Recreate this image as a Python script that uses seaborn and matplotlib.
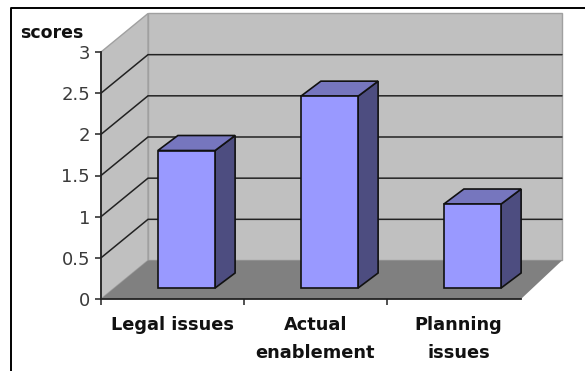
import matplotlib
matplotlib.use("Agg")
import matplotlib.pyplot as plt
import seaborn as sns
from matplotlib.lines import Line2D
from matplotlib.patches import Polygon
from matplotlib.transforms import Affine2D

categories = ["Legal issues", "Actual\nenablement", "Planning\nissues"]
scores = [1.67, 2.33, 1.02]
score_ticks = [0, 0.5, 1, 1.5, 2, 2.5, 3]
score_labels = ["0", "0.5", "1", "1.5", "2", "2.5", "3"]

WALL = "#C0C0C0"
FLOOR = "#808080"
BAR_FRONT = "#9999FF"
BAR_TOP = "#7676BE"
BAR_SIDE = "#4D4D80"
INK = "#111111"

W, H = 585, 371
sns.set_style("white")
plt.rcParams["font.family"] = ["DejaVu Sans"]
fig = plt.figure(figsize=(W / 100, H / 100), dpi=100, facecolor="white")
# Axes sit on the front plane of the 3-D box: one category = 143 px, one score = 82.3 px
ax = fig.add_axes([101 / W, (H - 299) / H, 429 / W, 247 / H], facecolor="none")

PX_X = 143.0
PX_Y = 82.33


def dx(px):
    return px / PX_X


def dy(px):
    return px / PX_Y


sns.barplot(x=categories, y=scores, color=BAR_FRONT, saturation=1, width=0.4,
            edgecolor=INK, linewidth=1.2, ax=ax, zorder=5)
ax.set_xlim(-0.5, 2.5)
ax.set_ylim(0, 3)

# Box geometry expressed in data units
x0 = -0.5
x1 = x0 + dx(420)
wall_x0 = x0 + dx(47)
wall_x1 = x0 + dx(461)
wall_dy = dy(38.5)

# Back wall, side wall and floor
ax.add_patch(Polygon([(wall_x0, wall_dy), (wall_x1, wall_dy), (wall_x1, 3 + wall_dy), (wall_x0, 3 + wall_dy)],
                     facecolor=WALL, edgecolor="#A0A0A0", linewidth=1.0, zorder=1, clip_on=False))
ax.add_patch(Polygon([(x0, 0), (wall_x0, wall_dy), (wall_x0, 3 + wall_dy), (x0, 3)],
                     facecolor=WALL, edgecolor="#A0A0A0", linewidth=1.0, zorder=1, clip_on=False))
ax.add_patch(Polygon([(x0, 0), (x1, 0), (wall_x1, wall_dy), (wall_x0, wall_dy)],
                     facecolor=FLOOR, edgecolor="none", zorder=2, clip_on=False))

# Gridlines across both walls
for value in score_ticks[1:-1]:
    ax.plot([x0, wall_x0, wall_x1], [value, value + wall_dy, value + wall_dy],
            color="#222222", linewidth=1.1, zorder=1.5, clip_on=False, solid_joinstyle="miter")

# Bars stand slightly behind the front plane, each with a top and a side face
shift_x, shift_y = dx(14), dy(11)
depth_x, depth_y = dx(20), dy(15)
shift = Affine2D().translate(shift_x, shift_y)
for bar in list(ax.patches):
    if bar.get_zorder() != 5:
        continue
    bar.set_transform(shift + ax.transData)
    bar.set_clip_on(False)
    left = bar.get_x() + shift_x
    right = left + bar.get_width()
    base = shift_y
    top = bar.get_height() + shift_y
    ax.add_patch(Polygon([(right, base), (right + depth_x, base + depth_y),
                          (right + depth_x, top + depth_y), (right, top)],
                         facecolor=BAR_SIDE, edgecolor=INK, linewidth=1.2, zorder=4, clip_on=False))
    ax.add_patch(Polygon([(left, top), (right, top), (right + depth_x, top + depth_y),
                          (left + depth_x, top + depth_y)],
                         facecolor=BAR_TOP, edgecolor=INK, linewidth=1.2, zorder=4, clip_on=False))

# Axes furniture
sns.despine(ax=ax, top=True, right=True)
ax.spines["left"].set(color="#222222", linewidth=1.3, zorder=6)
ax.spines["bottom"].set(color="#222222", linewidth=1.3, zorder=6)
ax.spines["bottom"].set_bounds(x0, x1)
ax.set_yticks(score_ticks, score_labels)
ax.tick_params(axis="y", length=4, width=1.1, color="#222222", pad=4,
               labelsize=13, labelcolor="#3A3A3A", left=True)
ax.set_xticks([-0.5, 0.5, 1.5], minor=True)
ax.tick_params(axis="x", which="minor", length=4, width=1.1, color="#222222", bottom=True)
ax.tick_params(axis="x", which="major", length=0, pad=12)
for label in ax.get_xticklabels():
    label.set(fontsize=12.8, fontweight="bold", color="#111111", linespacing=1.75)
ax.set_xlabel("")
ax.set_ylabel("")

fig.text(52 / W, 1 - 33 / H, "scores", fontsize=12.5, fontweight="bold", color="#111111",
         ha="center", va="center")

# Outer frame, open at the right and the bottom
fig.add_artist(Line2D([10.5 / W, 10.5 / W, 1], [0, 1 - 8 / H, 1 - 8 / H],
                      color="black", linewidth=1.4, transform=fig.transFigure))

fig.savefig("out.png", dpi=100, facecolor="white")
